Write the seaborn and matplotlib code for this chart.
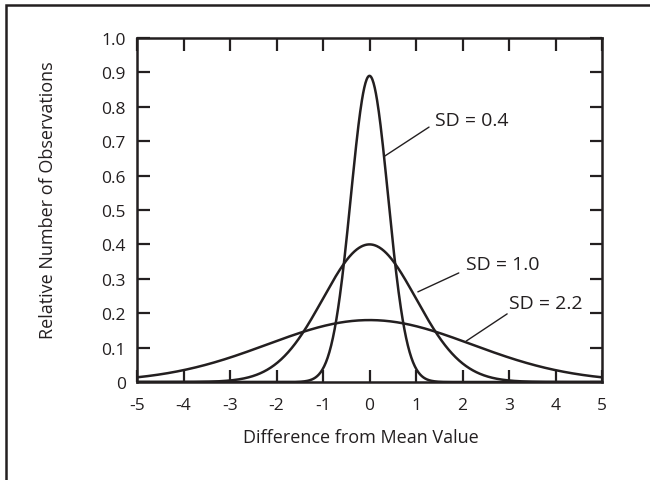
"""
Normal curves with different spreads around the mean.
"""

import numpy as np
import pandas as pd
import matplotlib
matplotlib.use("Agg")
import matplotlib.pyplot as plt
from matplotlib.patches import Rectangle
import seaborn as sns

# Curve parameters
sd_values = [0.4, 1.0, 2.2]
peak_heights = [0.89, 0.40, 0.18]
curve_labels = ["SD = 0.4", "SD = 1.0", "SD = 2.2"]

# Label text anchors (baseline) and leader line ends (data units)
label_xy = [(1.41, 0.747), (2.08, 0.328), (3.0, 0.215)]
leader_start = [(0.33, 0.657), (1.04, 0.262), (2.08, 0.119)]
leader_end = [(1.28, 0.741), (1.92, 0.317), (2.96, 0.198)]

x_ticks = list(range(-5, 6))
y_ticks = [0, 0.1, 0.2, 0.3, 0.4, 0.5, 0.6, 0.7, 0.8, 0.9, 1.0]
y_tick_labels = ["0", "0.1", "0.2", "0.3", "0.4", "0.5", "0.6", "0.7", "0.8", "0.9", "1.0"]

INK = "#231f20"

sns.set_theme(style="white")
plt.rcParams["font.family"] = ["Open Sans", "DejaVu Sans"]

x = np.linspace(-5, 5, 801)
frames = []
for sd, peak, lab in zip(sd_values, peak_heights, curve_labels):
    frames.append(pd.DataFrame({
        "x": x,
        "y": peak * np.exp(-x ** 2 / (2 * sd ** 2)),
        "curve": lab,
    }))
df = pd.concat(frames, ignore_index=True)

fig = plt.figure(figsize=(6.5, 4.81), dpi=100)
ax = fig.add_axes([137 / 650, 98 / 481, 465 / 650, 344 / 481])

sns.lineplot(data=df, x="x", y="y", units="curve", estimator=None,
             color=INK, lw=1.8, ax=ax, legend=False)

ax.set_xlim(-5, 5)
ax.set_ylim(0, 1.0)
ax.set_xticks(x_ticks)
ax.set_xticklabels([str(t) for t in x_ticks])
ax.set_yticks(y_ticks)
ax.set_yticklabels(y_tick_labels)
ax.tick_params(direction="in", length=9, width=1.6, color=INK,
               labelsize=12.5, labelcolor=INK, top=True, right=True,
               bottom=True, left=True)
ax.tick_params(axis="x", pad=11)
ax.tick_params(axis="y", pad=8)
for spine in ax.spines.values():
    spine.set_linewidth(1.8)
    spine.set_color(INK)

ax.set_xlabel("Difference from Mean Value", fontsize=13, color=INK)
ax.set_ylabel("Relative Number of Observations", fontsize=13, color=INK)
ax.xaxis.set_label_coords((361 - 137) / 465, -(438 - 383) / 344)
ax.yaxis.set_label_coords(-(137 - 48) / 465, (383 - 200) / 344)
ax.xaxis.label.set_va("center")
ax.yaxis.label.set_va("center")

for lab, (tx, ty), (x0, y0), (x1, y1) in zip(curve_labels, label_xy,
                                             leader_start, leader_end):
    ax.plot([x0, x1], [y0, y1], color=INK, lw=1.0)
    ax.text(tx, ty, lab, fontsize=14, color=INK, ha="left", va="baseline")

# Outer frame (only top and left edges fall inside the image)
fig.add_artist(Rectangle((6 / 650, -0.2), 1.5, 1.2 - 6 / 481,
                         transform=fig.transFigure, fill=False,
                         edgecolor=INK, lw=1.8))

fig.savefig("out.png", dpi=100)
plt.close(fig)
